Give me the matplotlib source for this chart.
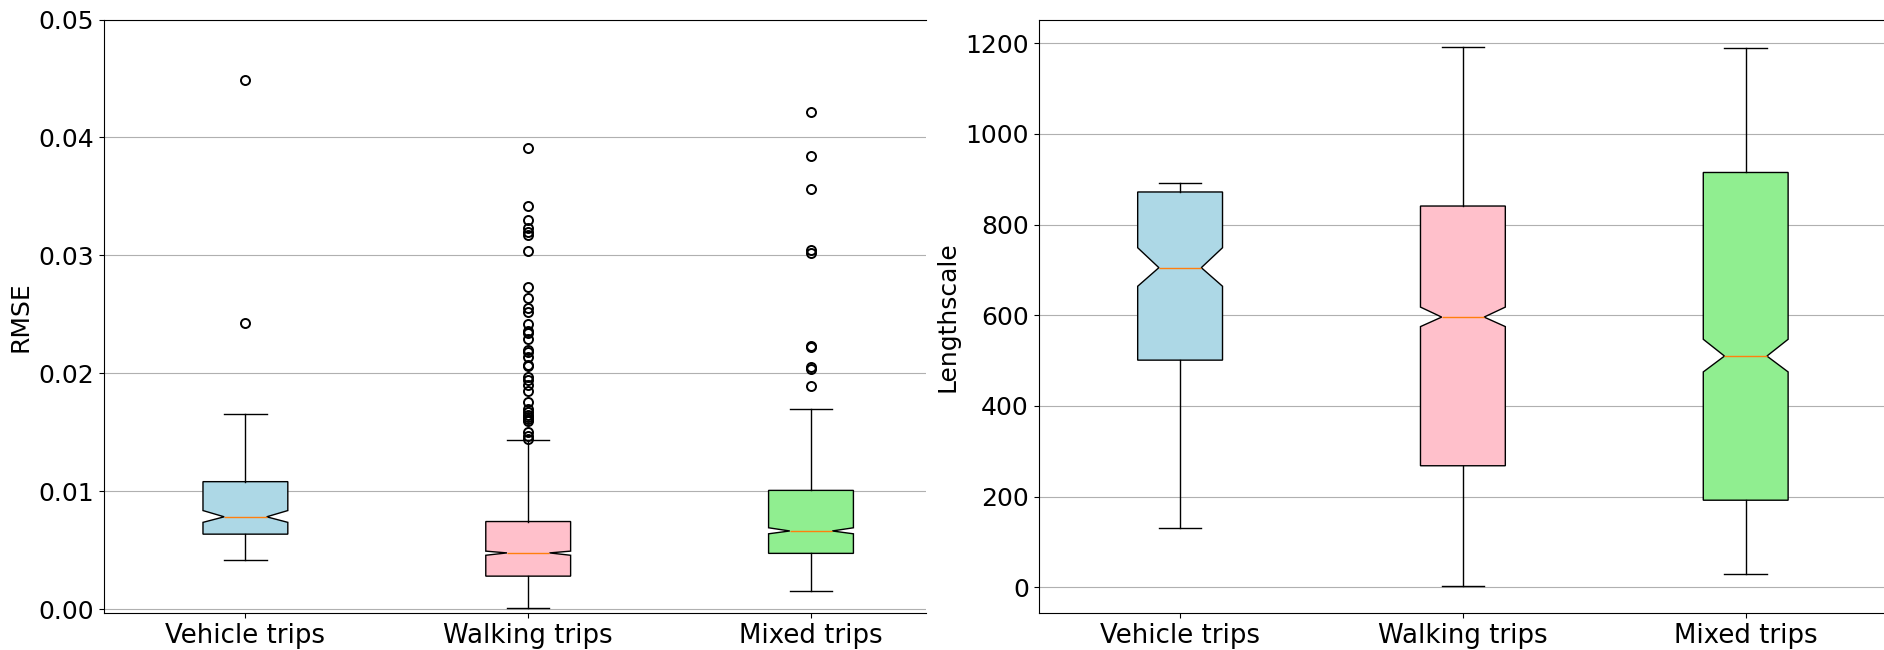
import matplotlib
matplotlib.use("Agg")
import matplotlib.pyplot as plt

categories = ["Vehicle trips", "Walking trips", "Mixed trips"]
box_colors = ["lightblue", "pink", "lightgreen"]

# RMSE summary statistics per trip type
rmse_q1 = [0.00637, 0.00281, 0.00474]
rmse_med = [0.00784, 0.00478, 0.00664]
rmse_q3 = [0.01082, 0.00744, 0.01008]
rmse_whislo = [0.00417, 0.00012, 0.00153]
rmse_whishi = [0.01655, 0.01432, 0.01698]
rmse_cilo = [0.00737, 0.00458, 0.00640]
rmse_cihi = [0.00837, 0.00493, 0.00691]
rmse_fliers_vehicle = [0.0243, 0.0449]
rmse_fliers_walking = [0.0391, 0.0342, 0.0330, 0.0323, 0.0320, 0.0317, 0.0304,
                       0.0273, 0.0264, 0.0255, 0.0252, 0.0242, 0.0236, 0.0234,
                       0.0229, 0.0220, 0.0218, 0.0214, 0.0207, 0.0206, 0.0197,
                       0.0194, 0.0190, 0.0185, 0.0176, 0.0170, 0.0167, 0.0165,
                       0.0163, 0.0161, 0.0160, 0.0150, 0.0147, 0.0144]
rmse_fliers_mixed = [0.0422, 0.0384, 0.0356, 0.0305, 0.0302, 0.0223, 0.0222,
                     0.0205, 0.0204, 0.0189]

# Lengthscale summary statistics per trip type
ls_q1 = [501, 268, 192]
ls_med = [705, 596, 510]
ls_q3 = [872, 841, 915]
ls_whislo = [131, 2, 29]
ls_whishi = [892, 1192, 1190]
ls_cilo = [664, 575, 475]
ls_cihi = [749, 618, 547]


def build_stats(q1, med, q3, lo, hi, cilo, cihi, fliers):
    stats = []
    for i, name in enumerate(categories):
        stats.append(dict(label=name, q1=q1[i], med=med[i], q3=q3[i],
                          whislo=lo[i], whishi=hi[i], cilo=cilo[i],
                          cihi=cihi[i], fliers=fliers[i]))
    return stats


rmse_stats = build_stats(rmse_q1, rmse_med, rmse_q3, rmse_whislo, rmse_whishi,
                         rmse_cilo, rmse_cihi,
                         [rmse_fliers_vehicle, rmse_fliers_walking, rmse_fliers_mixed])
ls_stats = build_stats(ls_q1, ls_med, ls_q3, ls_whislo, ls_whishi,
                       ls_cilo, ls_cihi, [[], [], []])

plt.rcParams["font.family"] = ["DejaVu Sans"]
FS = 18

fig = plt.figure(figsize=(18.84, 6.5), dpi=100)
W, H = 1884.0, 650.0
unit = 282.8  # pixels per category step
top_px, bot_px = 19.5, 613.3

left_w = 926.3 - 104.0
ax1 = fig.add_axes([104.0 / W, 1 - bot_px / H, left_w / W, (bot_px - top_px) / H])
ax2 = fig.add_axes([1038.7 / W, 1 - bot_px / H, 3 * unit / W, (bot_px - top_px) / H])

flier_style = dict(marker="o", markerfacecolor="none", markeredgecolor="black",
                   markersize=6.5, markeredgewidth=1.4)

for ax, stats in ((ax1, rmse_stats), (ax2, ls_stats)):
    ax.set_axisbelow(True)
    ax.yaxis.grid(True, color="#b0b0b0", linewidth=0.8)
    parts = ax.bxp(stats, positions=[1, 2, 3], widths=0.3, patch_artist=True,
                   shownotches=True, showfliers=True, flierprops=flier_style)
    for patch, col in zip(parts["boxes"], box_colors):
        patch.set_facecolor(col)
        patch.set_edgecolor("black")
    for med in parts["medians"]:
        med.set_color("#ff7f0e")
    ax.tick_params(axis="y", labelsize=FS)
    ax.tick_params(axis="x", labelsize=18.7)

ax1.set_xlim(0.5, 0.5 + left_w / unit)
ax1.spines["right"].set_visible(False)
ax1.set_ylim(-0.00034, 0.05)
ax1.set_yticks([0.0, 0.01, 0.02, 0.03, 0.04, 0.05])
ax1.set_yticklabels(["0.00", "0.01", "0.02", "0.03", "0.04", "0.05"])
ax1.set_ylabel("RMSE", fontsize=FS)

ax2.set_xlim(0.5, 3.5)
ax2.set_ylim(-57.5, 1252.5)
ax2.set_yticks([0, 200, 400, 600, 800, 1000, 1200])
ax2.set_ylabel("Lengthscale", fontsize=FS)

fig.savefig("out.png", dpi=100)
